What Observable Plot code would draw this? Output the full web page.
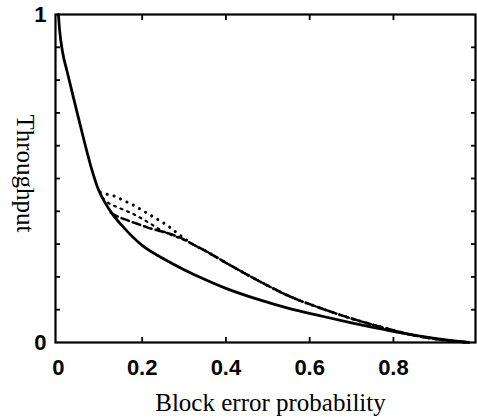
<!DOCTYPE html>
<html><head><meta charset="utf-8">
<script src="https://cdn.jsdelivr.net/npm/d3@7"></script>
<script src="https://cdn.jsdelivr.net/npm/@observablehq/plot@0.6"></script>
<style>body{margin:0;background:#fff} svg{display:block}</style>
</head><body><div id="chart"></div>
<script>
// x ticks and labels
const xTickValues = [0, 0.2, 0.4, 0.6, 0.8];
const xTickLabels = ["0", "0.2", "0.4", "0.6", "0.8"];
const xMinorTicks = [0.2, 0.4, 0.6, 0.8];
const yTickMarks = [0.1, 0.2, 0.3, 0.4, 0.5, 0.6, 0.7, 0.8, 0.9];
const yTickValues = [0, 1];
const yTickLabels = ["0", "1"];
const xTitle = "Block error probability";
const yTitle = "Throughput";

// solid curve
const solidX = [0, 0.003, 0.01, 0.02, 0.04, 0.06, 0.078, 0.095, 0.112, 0.13, 0.16, 0.2, 0.25, 0.3, 0.35, 0.4, 0.475, 0.55, 0.63, 0.7, 0.78, 0.86, 0.93, 0.98];
const solidY = [1, 0.95, 0.885, 0.83, 0.725, 0.622, 0.535, 0.468, 0.425, 0.39, 0.345, 0.296, 0.256, 0.222, 0.192, 0.165, 0.132, 0.104, 0.08, 0.06, 0.039, 0.02, 0.007, 0];

// dotted curve (top)
const dottedX = [0.1, 0.113, 0.132, 0.148, 0.164, 0.18, 0.2, 0.22, 0.24, 0.26, 0.28, 0.3, 0.323, 0.35, 0.4, 0.475, 0.55, 0.63, 0.7, 0.78, 0.86, 0.93, 0.98];
const dottedY = [0.458, 0.453, 0.447, 0.438, 0.428, 0.418, 0.403, 0.388, 0.373, 0.357, 0.337, 0.318, 0.298, 0.28, 0.243, 0.19, 0.142, 0.103, 0.073, 0.044, 0.019, 0.006, 0];

// fine dotted curve (middle)
const dashDotX = [0.105, 0.121, 0.14, 0.16, 0.18, 0.2, 0.22, 0.24, 0.26, 0.28, 0.3, 0.323, 0.35, 0.4, 0.475, 0.55, 0.63, 0.7, 0.78, 0.86, 0.93, 0.98];
const dashDotY = [0.44, 0.424, 0.413, 0.402, 0.391, 0.377, 0.362, 0.346, 0.333, 0.323, 0.313, 0.298, 0.28, 0.243, 0.19, 0.142, 0.103, 0.073, 0.044, 0.019, 0.006, 0];

// dashed curve (lower)
const dashedX = [0.125, 0.137, 0.164, 0.188, 0.212, 0.236, 0.256, 0.28, 0.3, 0.323, 0.35, 0.4, 0.475, 0.55, 0.63, 0.7, 0.78, 0.86, 0.93, 0.98];
const dashedY = [0.396, 0.387, 0.373, 0.362, 0.351, 0.342, 0.335, 0.325, 0.314, 0.298, 0.28, 0.243, 0.19, 0.142, 0.103, 0.073, 0.044, 0.019, 0.006, 0];

const rows = (xs, ys) => xs.map((x, i) => ({x, y: ys[i]}));
const solid = rows(solidX, solidY);
const dotted = rows(dottedX, dottedY);
const dashDot = rows(dashDotX, dashDotY);
const dashed = rows(dashedX, dashedY);

const tickFont = {fontSize: 22, fontWeight: "bold", fontFamily: "Liberation Sans, Arial, sans-serif"};
const titleFont = {fontSize: 25, fontFamily: "Liberation Serif, Times New Roman, serif"};
const lineOpts = {x: "x", y: "y", stroke: "#000", curve: "monotone-x"};

const chart = Plot.plot({
  width: 477, height: 417,
  marginLeft: 55, marginRight: 2, marginTop: 14, marginBottom: 75,
  style: {background: "#fff", color: "#000", overflow: "visible"},
  x: {domain: [-0.007, 0.996]},
  y: {domain: [0, 1]},
  marks: [
    Plot.line(solid, {...lineOpts, strokeWidth: 2.8}),
    Plot.line(dashed, {...lineOpts, strokeWidth: 2.5, strokeDasharray: "8,4"}),
    Plot.line(dashDot, {...lineOpts, strokeWidth: 2.2, strokeDasharray: "2,5"}),
    Plot.line(dotted, {...lineOpts, strokeWidth: 3, strokeDasharray: "0.1,7", strokeLinecap: "round"}),
    Plot.frame({stroke: "#000", strokeWidth: 2.2}),
    Plot.axisX({anchor: "bottom", ticks: xMinorTicks, tickSize: -5, tickFormat: () => "", label: null, strokeWidth: 1.8}),
    Plot.axisX({anchor: "top", ticks: xMinorTicks, tickSize: -5, tickFormat: () => "", label: null, strokeWidth: 1.8}),
    Plot.axisY({anchor: "left", ticks: yTickMarks, tickSize: -5, tickFormat: () => "", label: null, strokeWidth: 1.8}),
    Plot.axisY({anchor: "right", ticks: yTickMarks, tickSize: -5, tickFormat: () => "", label: null, strokeWidth: 1.8}),
    Plot.axisX({anchor: "bottom", ticks: xTickValues, tickSize: 0, tickPadding: 17, label: null,
      tickFormat: d => xTickLabels[xTickValues.indexOf(d)], ...tickFont}),
    Plot.axisY({anchor: "left", ticks: yTickValues, tickSize: 0, tickPadding: 9, label: null,
      tickFormat: d => yTickLabels[yTickValues.indexOf(d)], ...tickFont}),
    Plot.text([xTitle], {frameAnchor: "bottom", dy: 60, dx: 5, text: d => d, fill: "#000", textAnchor: "middle", lineAnchor: "middle", ...titleFont}),
    Plot.text([yTitle], {frameAnchor: "left", dx: -31, dy: -5, rotate: 90, text: d => d, fill: "#000", textAnchor: "middle", lineAnchor: "middle", ...titleFont})
  ]
});
document.getElementById("chart").appendChild(chart);
</script>
</body></html>
